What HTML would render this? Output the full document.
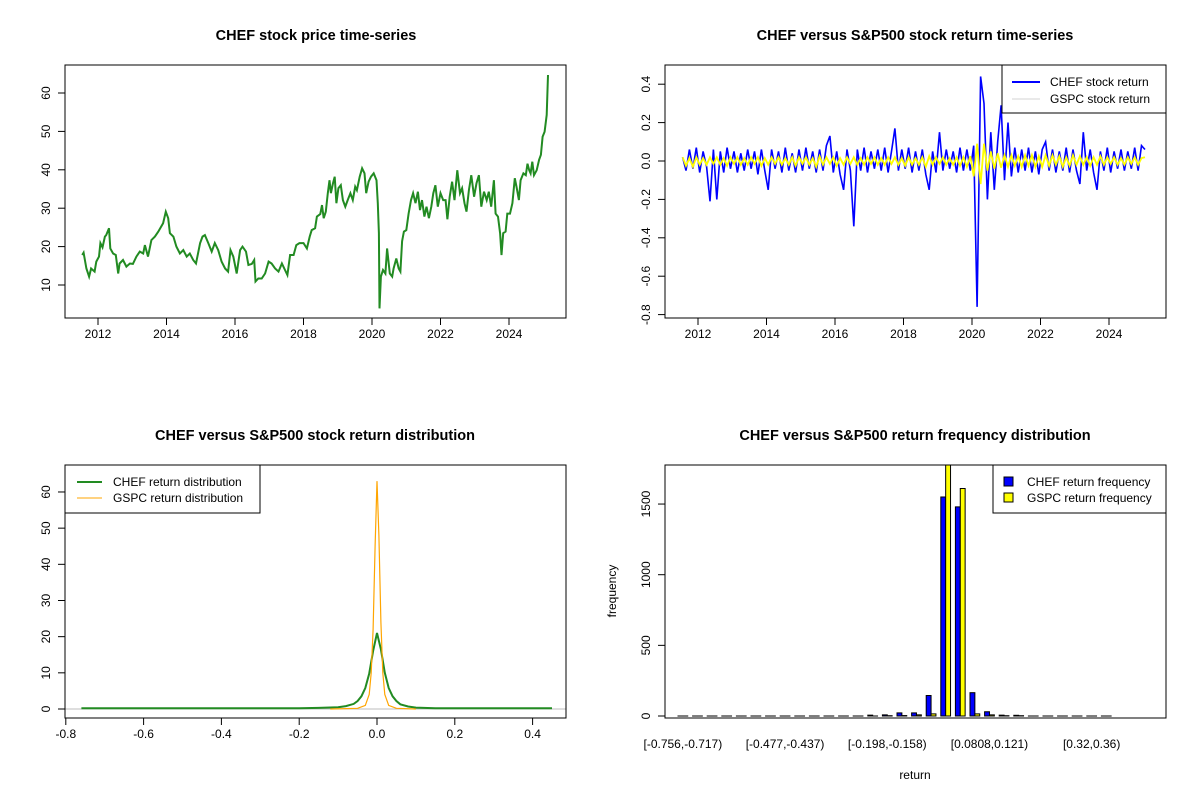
<!DOCTYPE html>
<html><head><meta charset="utf-8"><style>
body{margin:0;background:#fff}
svg{display:block;font-family:"Liberation Sans",Arial,sans-serif}
</style></head><body>
<svg id="c" width="1200" height="800" viewBox="0 0 1200 800"></svg>
<script>
// ---------- Panel 1: price series ----------
const priceYears=[2011.54,2011.58,2011.66,2011.74,2011.80,2011.90,2011.95,2012.03,2012.07,2012.13,2012.20,2012.24,2012.32,2012.36,2012.44,2012.52,2012.59,2012.63,2012.73,2012.83,2012.93,2013.02,2013.12,2013.22,2013.32,2013.37,2013.46,2013.56,2013.66,2013.76,2013.90,2013.98,2014.05,2014.10,2014.20,2014.29,2014.39,2014.49,2014.59,2014.68,2014.78,2014.86,2014.93,2014.98,2015.05,2015.12,2015.22,2015.32,2015.41,2015.51,2015.61,2015.71,2015.80,2015.87,2015.95,2016.05,2016.15,2016.22,2016.32,2016.39,2016.49,2016.56,2016.60,2016.68,2016.78,2016.88,2016.98,2017.07,2017.17,2017.27,2017.37,2017.46,2017.53,2017.61,2017.71,2017.79,2017.88,2018.00,2018.10,2018.18,2018.24,2018.34,2018.39,2018.49,2018.54,2018.59,2018.65,2018.71,2018.76,2018.80,2018.86,2018.91,2018.96,2019.02,2019.09,2019.15,2019.22,2019.29,2019.37,2019.44,2019.51,2019.56,2019.64,2019.71,2019.78,2019.83,2019.90,2019.97,2020.05,2020.13,2020.17,2020.20,2020.22,2020.26,2020.32,2020.39,2020.44,2020.52,2020.59,2020.63,2020.71,2020.78,2020.83,2020.88,2020.93,2021.00,2021.07,2021.14,2021.20,2021.27,2021.34,2021.40,2021.46,2021.53,2021.59,2021.66,2021.73,2021.79,2021.85,2021.92,2022.00,2022.08,2022.15,2022.20,2022.27,2022.34,2022.41,2022.49,2022.57,2022.63,2022.70,2022.76,2022.83,2022.90,2022.98,2023.05,2023.12,2023.19,2023.27,2023.35,2023.41,2023.48,2023.56,2023.61,2023.68,2023.74,2023.78,2023.83,2023.90,2023.95,2024.03,2024.10,2024.17,2024.22,2024.29,2024.34,2024.42,2024.49,2024.54,2024.59,2024.63,2024.68,2024.73,2024.81,2024.88,2024.93,2024.98,2025.04,2025.10,2025.14];
const prices=[17.8,18.4,14.3,12.2,14.3,13.5,16.1,17.4,20.9,19.8,22.6,23.0,24.8,19.5,18.2,17.8,13.0,15.6,16.5,14.8,15.6,15.5,17.4,18.7,18.2,20.4,17.4,21.7,22.6,23.9,26.1,29.1,27.4,23.5,22.6,20.0,18.2,19.1,17.4,18.2,16.5,15.6,18.7,20.9,22.6,23.0,20.9,18.7,20.9,19.1,16.1,14.3,13.5,19.1,17.4,13.0,19.1,20.0,18.7,15.2,15.5,16.5,10.9,11.7,11.7,13.0,16.1,15.6,14.3,13.5,15.6,13.9,12.6,17.8,17.8,20.4,20.9,20.9,19.5,22.6,24.3,24.8,27.8,28.5,30.8,27.4,29.1,33.9,37.3,33.9,36.5,38.2,31.3,35.2,36.0,32.1,30.4,32.1,33.9,32.1,35.6,34.7,38.2,40.4,39.1,33.9,36.9,38.2,39.1,37.3,31.3,23.5,3.9,12.2,13.9,13.0,19.5,13.0,12.2,14.3,16.9,14.3,13.5,21.4,23.9,24.3,28.6,32.1,33.9,31.3,34.3,29.5,32.1,27.8,30.4,27.4,30.4,33.9,36.0,30.4,33.9,32.1,32.1,27.1,33.0,36.9,32.1,39.9,33.9,35.2,31.3,29.1,34.7,38.6,33.0,36.5,38.6,30.4,34.3,32.1,34.3,30.4,37.3,28.6,27.8,23.5,17.8,23.5,23.9,28.6,28.6,31.3,37.8,35.6,32.1,37.3,39.1,38.6,41.6,39.9,39.1,42.1,38.6,39.9,42.6,43.9,48.6,49.9,54.3,64.7];
const priceTicksY=[10,20,30,40,50,60];
const yearTicks=[2012,2014,2016,2018,2020,2022,2024];

// ---------- Panel 2: returns (one value per 0.1 year starting 2011.55) ----------
const retStart=2011.55, retStep=0.1;
const chefReturns=[0.02,-0.05,0.06,-0.04,0.07,-0.06,0.05,-0.03,-0.21,0.06,
-0.2,0.05,-0.06,0.07,-0.04,0.05,-0.06,0.04,-0.05,0.06,
-0.04,0.05,-0.07,0.06,-0.05,-0.15,0.06,-0.04,0.05,-0.06,
0.07,-0.05,0.04,-0.06,0.06,-0.05,0.07,-0.04,0.05,-0.06,
0.06,-0.05,0.08,0.13,-0.06,0.05,-0.07,-0.15,0.06,-0.05,
-0.34,0.06,-0.05,0.07,-0.06,0.05,-0.04,0.06,-0.05,0.07,
-0.06,0.05,0.17,-0.05,0.06,-0.04,0.07,-0.06,0.05,-0.05,
0.06,-0.07,-0.15,0.05,-0.06,0.15,-0.05,0.06,-0.04,0.05,
-0.06,0.07,-0.05,0.06,-0.05,0.08,-0.76,0.44,0.3,-0.2,
0.15,-0.15,0.1,0.29,-0.1,0.2,-0.08,0.07,-0.06,0.06,
-0.05,0.07,-0.06,0.05,-0.07,0.06,0.1,-0.05,0.06,-0.06,
0.05,-0.05,0.07,-0.06,0.06,-0.05,-0.12,0.15,-0.05,0.06,
-0.06,-0.15,0.05,-0.05,0.07,-0.06,0.05,-0.04,0.06,-0.05,
0.05,-0.04,0.07,-0.05,0.08,0.06];
const gspcReturns=[0.02,-0.025,0.015,-0.03,0.02,-0.02,0.015,-0.02,0.02,-0.015,
0.02,-0.02,0.015,-0.025,0.02,-0.015,0.02,-0.02,0.015,-0.02,
0.02,-0.015,0.02,-0.025,0.015,-0.02,0.02,-0.015,0.02,-0.02,
0.015,-0.02,0.02,-0.025,0.02,-0.015,0.02,-0.02,0.015,-0.03,
0.025,-0.02,0.02,-0.015,0.02,-0.025,0.015,-0.02,0.02,-0.015,
0.02,-0.02,0.015,-0.02,0.02,-0.015,0.02,-0.02,0.015,-0.02,
0.02,-0.015,0.02,-0.02,0.015,-0.025,0.02,-0.02,0.015,-0.02,
0.02,-0.03,0.025,-0.02,0.02,-0.015,0.02,-0.02,0.015,-0.02,
0.02,-0.025,0.02,-0.03,0.025,-0.08,0.09,-0.12,0.09,-0.05,
0.05,-0.04,0.04,-0.035,0.03,-0.03,0.03,-0.025,0.025,-0.03,
0.03,-0.025,0.03,-0.03,0.025,-0.03,0.03,-0.025,0.03,-0.02,
0.025,-0.03,0.02,-0.025,0.03,-0.02,0.025,-0.02,0.02,-0.025,
0.02,-0.02,0.025,-0.02,0.02,-0.015,0.02,-0.02,0.015,-0.02,
0.02,-0.015,0.02,-0.02,0.015,0.02];
const retTicksY=[0.4,0.2,0.0,-0.2,-0.4,-0.6,-0.8];

// ---------- Panel 3: densities ----------
const chefDensX=[-0.76,-0.2,-0.15,-0.1,-0.08,-0.06,-0.05,-0.04,-0.03,-0.02,-0.01,0,0.01,0.02,0.03,0.04,0.05,0.06,0.08,0.1,0.15,0.45];
const chefDensY=[0.2,0.2,0.3,0.5,0.8,1.4,2.2,3.5,5.8,9.8,16,21,16.5,10,5.8,3.5,2.2,1.3,0.7,0.4,0.2,0.2];
const gspcDensX=[-0.12,-0.05,-0.03,-0.02,-0.015,-0.01,-0.005,0,0.005,0.01,0.015,0.02,0.03,0.05,0.1];
const gspcDensY=[0,0.2,1,4,10,22,45,63,48,24,10,4,1,0.2,0];
const densTicksX=[-0.8,-0.6,-0.4,-0.2,0.0,0.2,0.4];
const densTicksY=[0,10,20,30,40,50,60];

// ---------- Panel 4: histogram (30 bins) ----------
const binLabels=["[-0.756,-0.717)","[-0.477,-0.437)","[-0.198,-0.158)","[0.0808,0.121)","[0.32,0.36)"];
const binLabelIdx=[0,7,14,21,28];
const chefFreq=[0,0,0,0,0,0,0,0,0,0,0,0,0,6,8,22,22,145,1550,1480,165,30,6,5,0,0,0,0,0,0];
const gspcFreq=[0,0,0,0,0,0,0,0,0,0,0,0,0,0,2,3,8,15,1900,1610,15,8,2,2,0,0,0,0,0,0];
const freqTicksY=[0,500,1000,1500];

const NS="http://www.w3.org/2000/svg";
const svg=document.getElementById('c');
function el(tag,attrs,parent,text){const e=document.createElementNS(NS,tag);for(const k in attrs)e.setAttribute(k,attrs[k]);if(text!==undefined)e.textContent=text;(parent||svg).appendChild(e);return e;}
function fmt1(v){return v.toFixed(1);}

const defs=el('defs',{});
[[1,65,65],[2,665,65],[3,65,465],[4,665,465]].forEach(([i,x,y])=>{const cp=el('clipPath',{id:'clip'+i},defs);el('rect',{x:x,y:y,width:501,height:253},cp);});

function frame(g,x,y){const r=el('rect',{x:x,y:y,width:501,height:253,fill:'none',stroke:'#000','stroke-width':1},g);}
function title(g,x,y,t){const e=el('text',{x:x,y:y,'text-anchor':'middle','font-size':'14.5','font-weight':'bold'},g,t);}
function yTick(g,xl,y,label){el('line',{x1:xl-7,x2:xl,y1:y,y2:y,stroke:'#000'},g);const t=el('text',{x:xl-15,y:y,'text-anchor':'middle','font-size':'12',transform:`rotate(-90 ${xl-15} ${y})`},g,label);}
function xTick(g,x,yb,label){el('line',{x1:x,x2:x,y1:yb,y2:yb+7,stroke:'#000'},g);const t=el('text',{x:x,y:yb+20,'text-anchor':'middle','font-size':'12'},g,label);}

// ===== Panel 1 =====
const p1=el('g',{});
const x1=yr=>98+(yr-2012)*34.25, y1=v=>285-(v-10)*3.84;
title(p1,316,40,'CHEF stock price time-series');
let pts=priceYears.map((yr,i)=>x1(yr).toFixed(1)+','+y1(prices[i]).toFixed(1)).join(' ');
const pl1=el('polyline',{points:pts,fill:'none',stroke:'#228B22','stroke-width':2,'clip-path':'url(#clip1)'},p1);

frame(p1,65,65);
el('line',{x1:65,x2:65,y1:y1(10),y2:y1(60),stroke:'#000'},p1);
priceTicksY.forEach(v=>yTick(p1,65,y1(v),String(v)));
el('line',{x1:x1(2012),x2:x1(2024),y1:318,y2:318,stroke:'#000'},p1);
yearTicks.forEach(v=>xTick(p1,x1(v),318,String(v)));

// ===== Panel 2 =====
const p2=el('g',{});
const x2=yr=>698+(yr-2012)*34.25, y2=v=>161-v*192;
title(p2,915,40,'CHEF versus S&P500 stock return time-series');
pts=chefReturns.map((r,i)=>x2(retStart+i*retStep).toFixed(1)+','+y2(r).toFixed(1)).join(' ');
const pl2=el('polyline',{points:pts,fill:'none',stroke:'#0000FF','stroke-width':1.6,'clip-path':'url(#clip2)'},p2);

pts=gspcReturns.map((r,i)=>x2(retStart+i*retStep).toFixed(1)+','+y2(r).toFixed(1)).join(' ');
const pl3=el('polyline',{points:pts,fill:'none',stroke:'#FFFF00','stroke-width':1.8,'clip-path':'url(#clip2)'},p2);

frame(p2,665,65);
el('line',{x1:665,x2:665,y1:y2(0.4),y2:y2(-0.8),stroke:'#000'},p2);
retTicksY.forEach(v=>yTick(p2,665,y2(v),fmt1(v)));
el('line',{x1:x2(2012),x2:x2(2024),y1:318,y2:318,stroke:'#000'},p2);
yearTicks.forEach(v=>xTick(p2,x2(v),318,String(v)));
const lg2=el('g',{},p2);
el('rect',{x:1002,y:65,width:164,height:48,fill:'#fff',stroke:'#000'},lg2);
el('line',{x1:1012,x2:1040,y1:82,y2:82,stroke:'#0000FF','stroke-width':2},lg2);
el('line',{x1:1012,x2:1040,y1:99,y2:99,stroke:'#d3d3d3','stroke-width':1},lg2);
let t=el('text',{x:1050,y:86,'font-size':'12'},lg2,'CHEF stock return');
t=el('text',{x:1050,y:103,'font-size':'12'},lg2,'GSPC stock return');

// ===== Panel 3 =====
const p3=el('g',{});
const x3=v=>377+v*389, y3=v=>709-v*3.617;
title(p3,315,440,'CHEF versus S&P500 stock return distribution');
el('line',{x1:65,x2:566,y1:y3(0),y2:y3(0),stroke:'#bebebe'},p3);
pts=chefDensX.map((v,i)=>x3(v).toFixed(1)+','+y3(chefDensY[i]).toFixed(1)).join(' ');
let d=el('polyline',{points:pts,fill:'none',stroke:'#228B22','stroke-width':2,'clip-path':'url(#clip3)'},p3);

pts=gspcDensX.map((v,i)=>x3(v).toFixed(1)+','+y3(gspcDensY[i]).toFixed(1)).join(' ');
d=el('polyline',{points:pts,fill:'none',stroke:'#FFA500','stroke-width':1.2,'clip-path':'url(#clip3)'},p3);

frame(p3,65,465);
el('line',{x1:65,x2:65,y1:y3(0),y2:y3(60),stroke:'#000'},p3);
densTicksY.forEach(v=>yTick(p3,65,y3(v),String(v)));
el('line',{x1:x3(-0.8),x2:x3(0.4),y1:718,y2:718,stroke:'#000'},p3);
densTicksX.forEach(v=>xTick(p3,x3(v),718,fmt1(v)));
const lg3=el('g',{},p3);
el('rect',{x:65,y:465,width:195,height:48,fill:'#fff',stroke:'#000'},lg3);
el('line',{x1:77,x2:102,y1:482,y2:482,stroke:'#228B22','stroke-width':2},lg3);
el('line',{x1:77,x2:102,y1:498,y2:498,stroke:'#FFA500','stroke-width':1},lg3);
t=el('text',{x:113,y:486,'font-size':'12'},lg3,'CHEF return distribution');
t=el('text',{x:113,y:502,'font-size':'12'},lg3,'GSPC return distribution');

// ===== Panel 4 =====
const p4=el('g',{});
const groupLeft=i=>678+i*14.6, bw=4.87, y4=v=>716-v*0.1413;
title(p4,915,440,'CHEF versus S&P500 return frequency distribution');
chefFreq.forEach((v,i)=>{
  const b=el('rect',{x:groupLeft(i),y:y4(v),width:bw,height:Math.max(0.01,y4(0)-y4(v)),fill:'#0000FF',stroke:'#000','stroke-width':1,'clip-path':'url(#clip4)'},p4);
  
  const g=el('rect',{x:groupLeft(i)+bw,y:y4(gspcFreq[i]),width:bw,height:Math.max(0.01,y4(0)-y4(gspcFreq[i])),fill:'#FFFF00',stroke:'#000','stroke-width':1,'clip-path':'url(#clip4)'},p4);
  
});
frame(p4,665,465);
el('line',{x1:665,x2:665,y1:y4(0),y2:y4(1500),stroke:'#000'},p4);
freqTicksY.forEach(v=>yTick(p4,665,y4(v),String(v)));
binLabelIdx.forEach((bi,k)=>{const tx=el('text',{x:groupLeft(bi)+bw,y:748,'text-anchor':'middle','font-size':'12'},p4,binLabels[k]);});
t=el('text',{x:915,y:779,'text-anchor':'middle','font-size':'12'},p4,'return');
t=el('text',{x:616,y:591,'text-anchor':'middle','font-size':'12',transform:'rotate(-90 616 591)'},p4,'frequency');
const lg4=el('g',{},p4);
el('rect',{x:993,y:465,width:173,height:48,fill:'#fff',stroke:'#000'},lg4);
el('rect',{x:1004,y:477,width:9,height:9,fill:'#0000FF',stroke:'#000'},lg4);
el('rect',{x:1004,y:493,width:9,height:9,fill:'#FFFF00',stroke:'#000'},lg4);
t=el('text',{x:1027,y:486,'font-size':'12'},lg4,'CHEF return frequency');
t=el('text',{x:1027,y:502,'font-size':'12'},lg4,'GSPC return frequency');
</script>
</body></html>
